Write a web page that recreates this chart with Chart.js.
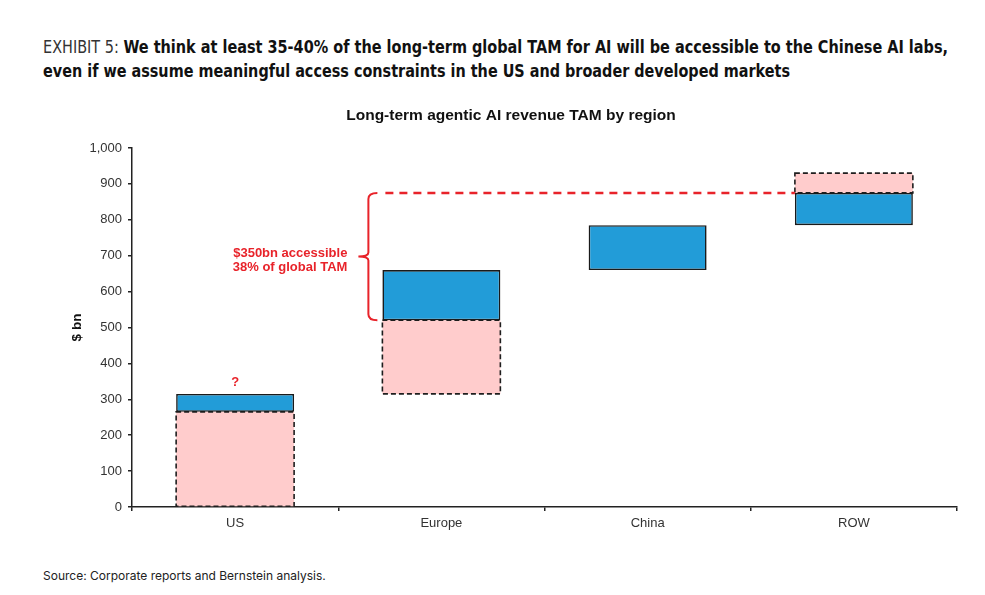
<!DOCTYPE html>
<html>
<head>
<meta charset="utf-8">
<script src="https://cdn.jsdelivr.net/npm/chart.js@4"></script>
<style>
  html, body { margin: 0; padding: 0; background: #fff; width: 985px; height: 595px; overflow: hidden; }
  .hl { position: absolute; left: 43px; white-space: nowrap; font-family: "DejaVu Sans Condensed", sans-serif; font-size: 17px; line-height: 24px; color: #111; transform-origin: 0 50%; }
  .hl .ex { font-weight: 300; color: #333; }
  .hl b { font-weight: 700; }
  #wrap { position: absolute; left: 40px; top: 95px; width: 942px; height: 450px; }
  #src { position: absolute; left: 43px; top: 568px; font-family: Inter, "Open Sans", sans-serif; font-size: 12px; color: #222; }
</style>
</head>
<body>
<div class="hl" id="h1" style="top:35px" data-w="905"><span class="ex">EXHIBIT 5: </span><b>We think at least 35-40% of the long-term global TAM for AI will be accessible to the Chinese AI labs,</b></div>
<div class="hl" id="h2" style="top:59px" data-w="747"><b>even if we assume meaningful access constraints in the US and broader developed markets</b></div>
<div id="wrap"><canvas id="c"></canvas></div>
<div id="src">Source: Corporate reports and Bernstein analysis.</div>
<script>
document.querySelectorAll('.hl').forEach(el => {
  const w = el.getBoundingClientRect().width;
  el.style.transform = 'scaleX(' + (parseFloat(el.dataset.w) / w) + ')';
});

const categories = ['US', 'Europe', 'China', 'ROW'];
// accessible (blue) segments
const accessibleLow  = [265, 520, 660, 785];
const accessibleHigh = [315, 660, 785, 875];
// constrained / uncertain (pink, dashed) segments
const constrainedLow  = [0, 315, null, 875];
const constrainedHigh = [265, 520, null, 930];
const yMin = 0, yMax = 1000, yStep = 100;
// annotation values
const bracketLow = 520, bracketHigh = 875;
const bracketText = ['$350bn accessible', '38% of global TAM'];
const questionValue = 348;
const questionText = '?';

const RED = '#E8232A';
const FONT = '"Liberation Sans", Arial, sans-serif';

const accessibleData = categories.map((c, i) => [accessibleLow[i], accessibleHigh[i]]);
const constrainedData = categories.map((c, i) => constrainedLow[i] === null ? null : [constrainedLow[i], constrainedHigh[i]]);

const annot = {
  id: 'annot',
  afterDatasetDraw(chart, args) {
    if (args.index !== 1) return;
    const ctx = chart.ctx;
    const meta = chart.getDatasetMeta(1);
    ctx.save();
    ctx.strokeStyle = '#1e1e1e';
    ctx.lineWidth = 1.6;
    ctx.setLineDash([5, 3]);
    meta.data.forEach((el, i) => {
      if (constrainedData[i] === null) return;
      const p = el.getProps(['x', 'y', 'base', 'width'], true);
      ctx.strokeRect(p.x - p.width / 2, p.y, p.width, p.base - p.y);
    });
    ctx.restore();
  },
  afterDatasetsDraw(chart) {
    const ctx = chart.ctx;
    const ys = chart.scales.y;
    const meta = chart.getDatasetMeta(0);
    const eu = meta.data[1].getProps(['x', 'width'], true);
    const row = meta.data[3].getProps(['x', 'width'], true);
    const us = meta.data[0].getProps(['x'], true);
    const bx = eu.x - eu.width / 2 - 14;
    const yTop = ys.getPixelForValue(bracketHigh);
    const yBot = ys.getPixelForValue(bracketLow);
    const yMid = (yTop + yBot) / 2;
    ctx.save();
    // dashed red line
    ctx.strokeStyle = RED;
    ctx.lineWidth = 2.5;
    ctx.setLineDash([8, 6]);
    ctx.beginPath();
    ctx.moveTo(bx + 17, yTop);
    ctx.lineTo(row.x - row.width / 2, yTop);
    ctx.stroke();
    // bracket
    ctx.setLineDash([]);
    ctx.lineWidth = 2;
    ctx.beginPath();
    ctx.moveTo(bx + 9, yTop);
    ctx.quadraticCurveTo(bx, yTop, bx, yTop + 6);
    ctx.lineTo(bx, yMid - 4);
    ctx.quadraticCurveTo(bx, yMid, bx - 10, yMid);
    ctx.moveTo(bx - 10, yMid);
    ctx.quadraticCurveTo(bx, yMid, bx, yMid + 4);
    ctx.lineTo(bx, yBot - 6);
    ctx.quadraticCurveTo(bx, yBot, bx + 9, yBot);
    ctx.stroke();
    // text
    ctx.fillStyle = RED;
    ctx.font = 'bold 13px ' + FONT;
    ctx.textAlign = 'right';
    ctx.textBaseline = 'middle';
    ctx.fillText(bracketText[0], bx - 21, yMid - 3);
    ctx.fillText(bracketText[1], bx - 21, yMid + 11);
    ctx.textAlign = 'center';
    ctx.fillText(questionText, us.x, ys.getPixelForValue(questionValue));
    ctx.restore();
  }
};

new Chart(document.getElementById('c'), {
  type: 'bar',
  data: {
    labels: categories,
    datasets: [
      {
        label: 'Accessible',
        data: accessibleData,
        backgroundColor: '#229CD8',
        borderColor: '#1a1a1a',
        borderWidth: 1.6,
        borderSkipped: false,
        grouped: false,
        barPercentage: 0.572,
        categoryPercentage: 1
      },
      {
        label: 'Constrained',
        data: constrainedData,
        backgroundColor: '#FFCCCC',
        borderWidth: 0,
        grouped: false,
        barPercentage: 0.572,
        categoryPercentage: 1
      }
    ]
  },
  options: {
    responsive: true,
    maintainAspectRatio: false,
    animation: false,
    layout: { padding: { left: 25, right: 25, top: 0, bottom: 0 } },
    plugins: {
      legend: { display: false },
      tooltip: { enabled: false },
      title: {
        display: true,
        text: 'Long-term agentic AI revenue TAM by region',
        color: '#111',
        font: { family: FONT, size: 15.5, weight: 'bold' },
        padding: { top: 11.7, bottom: 22.7 }
      }
    },
    scales: {
      x: {
        grid: { offset: true, drawOnChartArea: false, drawTicks: true, tickLength: 4, color: '#222', lineWidth: 1.5 },
        border: { display: true, color: '#222', width: 1.5 },
        ticks: { color: '#333', padding: 5, font: { family: FONT, size: 13 } },
        afterFit(s) { s.height = 38; }
      },
      y: {
        min: yMin, max: yMax,
        grid: { drawOnChartArea: false, drawTicks: true, tickLength: 4, color: '#222', lineWidth: 1.5 },
        border: { display: true, color: '#222', width: 1.5 },
        ticks: {
          stepSize: yStep, color: '#333', padding: 6,
          font: { family: FONT, size: 13 },
          callback: v => v.toLocaleString('en-US')
        },
        title: {
          display: true, text: '$ bn', color: '#111',
          font: { family: FONT, size: 13.5, weight: 'bold' },
          padding: { top: 4, bottom: 0 }
        },
        afterFit(s) { s.width = 67; }
      }
    }
  },
  plugins: [annot]
});
</script>
</body>
</html>
